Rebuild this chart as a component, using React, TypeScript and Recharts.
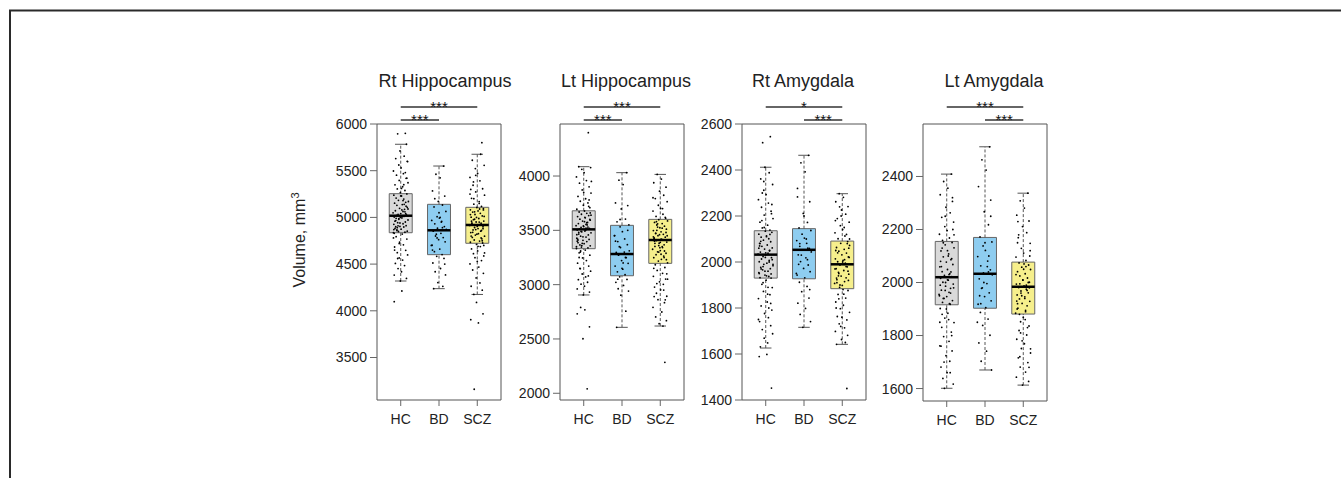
import React from 'react';
import { ComposedChart, XAxis, YAxis, Scatter, ReferenceArea, ReferenceLine } from 'recharts';

// ---------- data ----------
const groups = ['HC', 'BD', 'SCZ'];
const titles = ['Rt Hippocampus', 'Lt Hippocampus', 'Rt Amygdala', 'Lt Amygdala'];

// box stats per group: [lower whisker, Q1, median, Q3, upper whisker]
const rtHipStats = [[4319, 4836, 5018, 5254, 5783], [4237, 4601, 4862, 5140, 5550], [4175, 4723, 4919, 5108, 5676]];
const ltHipStats = [[2905, 3331, 3509, 3680, 4086], [2607, 3082, 3282, 3546, 4031], [2619, 3196, 3411, 3601, 4015]];
const rtAmyStats = [[1626, 1930, 2032, 2136, 2412], [1716, 1927, 2053, 2145, 2464], [1642, 1884, 1990, 2091, 2297]];
const ltAmyStats = [[1601, 1916, 2020, 2155, 2409], [1670, 1903, 2033, 2170, 2512], [1613, 1881, 1984, 2077, 2337]];

const rtHipTicks = [3500, 4000, 4500, 5000, 5500, 6000];
const ltHipTicks = [2000, 2500, 3000, 3500, 4000];
const rtAmyTicks = [1400, 1600, 1800, 2000, 2200, 2400, 2600];
const ltAmyTicks = [1600, 1800, 2000, 2200, 2400];

// significance brackets: [from group, to group, label]
const rtHipSig: [number, number, string][] = [[1, 3, '***'], [1, 2, '***']];
const ltHipSig: [number, number, string][] = [[1, 3, '***'], [1, 2, '***']];
const rtAmySig: [number, number, string][] = [[1, 3, '*'], [2, 3, '***']];
const ltAmySig: [number, number, string][] = [[1, 3, '***'], [2, 3, '***']];

// individual subject volumes
const rtHipHC = [5900, 5895, 4212, 4098, 5783, 5712, 5655, 5630, 5598, 5561, 5530, 5497, 5468, 5452, 5418, 5396, 5371, 5349, 5328, 5305, 5288, 5266, 5251, 5238, 5229, 5207, 5196, 5183, 5161, 5152, 5137, 5129, 5108, 5097, 5086, 5071, 5063, 5049, 5041, 5032, 5026, 5021, 5012, 5003, 4994, 4987, 4972, 4966, 4951, 4944, 4932, 4926, 4911, 4903, 4897, 4881, 4874, 4866, 4853, 4849, 4841, 4837, 4822, 4794, 4768, 4735, 4706, 4683, 4647, 4622, 4598, 4566, 4543, 4507, 4484, 4452, 4418, 4383, 4347, 4319,
  5180, 4960, 5090, 4890, 5310, 4870, 5040, 4720, 5140, 4990, 5420, 4910, 5230, 4780, 5060, 4940, 5600, 4860, 5010, 4650, 5120, 4980, 5350, 4900, 5170, 4560, 5080, 4830, 5480, 5000];
const rtHipBD = [5550, 5462, 5424, 5283, 5228, 5171, 5133, 5112, 5064, 5008, 4993, 4968, 4957, 4931, 4902, 4884, 4871, 4853, 4829, 4801, 4784, 4762, 4738, 4702, 4661, 4633, 4602, 4583, 4561, 4512, 4453, 4418, 4384, 4302, 4262, 4237,
  4950, 4700, 5050, 4820, 4500, 5200, 4890, 4650, 5000, 4780];
const rtHipSCZ = [5800, 3160, 3870, 3905, 3968, 4090, 5676, 5612, 5558, 5523, 5471, 5428, 5392, 5344, 5307, 5273, 5238, 5204, 5169, 5142, 5118, 5106, 5094, 5081, 5069, 5057, 5044, 5031, 5016, 5002, 4988, 4976, 4961, 4951, 4938, 4931, 4922, 4914, 4903, 4892, 4879, 4866, 4852, 4838, 4826, 4811, 4799, 4786, 4771, 4758, 4747, 4734, 4726, 4711, 4688, 4663, 4641, 4612, 4588, 4569, 4538, 4502, 4468, 4437, 4401, 4352, 4298, 4263, 4221, 4175,
  5010, 4870, 5150, 4940, 4780, 5060, 4690, 5300, 4900, 4820, 5090, 4960, 4620, 5200, 4880, 5030, 4750, 5450, 4920, 4840, 5080, 4980, 4530, 5250, 4860, 5000, 4700, 5380, 4950, 4800];

const ltHipHC = [4399, 2790, 2768, 2731, 2612, 2502, 2041, 4086, 4078, 4062, 4031, 3992, 3958, 3934, 3901, 3872, 3843, 3812, 3791, 3768, 3752, 3731, 3709, 3694, 3678, 3669, 3657, 3648, 3636, 3627, 3615, 3603, 3594, 3585, 3573, 3562, 3554, 3543, 3535, 3526, 3518, 3514, 3511, 3503, 3494, 3486, 3477, 3466, 3458, 3446, 3438, 3427, 3416, 3408, 3397, 3386, 3377, 3366, 3357, 3346, 3338, 3333, 3318, 3293, 3271, 3246, 3222, 3198, 3171, 3147, 3124, 3098, 3071, 3046, 3022, 3004, 2986, 2961, 2932, 2905,
  3520, 3410, 3640, 3300, 3580, 3460, 3720, 3380, 3550, 3250, 3600, 3490, 3850, 3350, 3530, 3440, 3660, 3150, 3500, 3420, 3780, 3360, 3570, 3480, 3950, 3310, 3620, 3400, 3080, 3540];
const ltHipBD = [4031, 3962, 3921, 3752, 3728, 3697, 3604, 3578, 3551, 3532, 3488, 3452, 3421, 3397, 3368, 3342, 3311, 3296, 3284, 3271, 3248, 3222, 3196, 3171, 3142, 3118, 3091, 3072, 3048, 3021, 2993, 2962, 2941, 2903, 2756, 2607,
  3300, 3450, 3150, 3350, 3500, 3050, 3250, 3400, 3200, 3600];
const ltHipSCZ = [2285, 4015, 3972, 3938, 3897, 3861, 3823, 3792, 3764, 3731, 3702, 3677, 3648, 3628, 3612, 3598, 3587, 3573, 3562, 3549, 3538, 3524, 3511, 3498, 3486, 3474, 3463, 3451, 3437, 3426, 3416, 3406, 3392, 3381, 3367, 3352, 3341, 3326, 3314, 3302, 3289, 3276, 3263, 3248, 3233, 3217, 3201, 3183, 3158, 3131, 3104, 3077, 3051, 3026, 3003, 2978, 2952, 2921, 2893, 2862, 2834, 2791, 2748, 2703, 2668, 2641, 2619, 2890, 2860, 3010,
  3450, 3300, 3520, 3380, 3250, 3560, 3420, 3150, 3480, 3340, 3700, 3400, 3050, 3500, 3280, 3440, 3620, 3360, 2950, 3470, 3230, 3530, 3390, 3800, 3310, 3460, 3100, 3580, 3350, 3430];

const rtAmyHC = [2545, 2519, 1598, 1589, 1452, 2412, 2388, 2361, 2337, 2312, 2293, 2271, 2256, 2238, 2221, 2204, 2189, 2173, 2160, 2148, 2139, 2134, 2129, 2121, 2114, 2108, 2101, 2095, 2088, 2081, 2074, 2068, 2061, 2056, 2049, 2043, 2038, 2034, 2030, 2024, 2019, 2013, 2007, 2001, 1995, 1990, 1984, 1977, 1971, 1966, 1960, 1954, 1948, 1943, 1937, 1932, 1921, 1903, 1889, 1872, 1858, 1841, 1826, 1809, 1791, 1776, 1758, 1741, 1723, 1706, 1688, 1669, 1648, 1631,
  2050, 1980, 2110, 1950, 2210, 2020, 1890, 2080, 1990, 2300, 1940, 2060, 1820, 2150, 2000, 1970, 2250, 1910, 2040, 1750, 2120, 1960, 2010, 2180, 1860, 2070, 1930, 2350, 1800, 2090];
const rtAmyBD = [2464, 2431, 2392, 2283, 2262, 2211, 2172, 2148, 2137, 2121, 2104, 2093, 2081, 2068, 2059, 2052, 2044, 2031, 2018, 2002, 1987, 1972, 1958, 1943, 1931, 1912, 1894, 1871, 1843, 1821, 1798, 1772, 1741, 1716,
  2060, 1990, 2100, 1950, 2200, 2030, 1880, 2080, 2010, 2320];
const rtAmySCZ = [1450, 2297, 2281, 2262, 2241, 2226, 2208, 2189, 2173, 2158, 2141, 2127, 2113, 2101, 2089, 2081, 2072, 2063, 2055, 2047, 2039, 2031, 2022, 2014, 2007, 2001, 1995, 1987, 1979, 1971, 1963, 1955, 1947, 1939, 1931, 1923, 1915, 1907, 1898, 1890, 1876, 1859, 1843, 1826, 1812, 1797, 1781, 1763, 1748, 1731, 1714, 1698, 1681, 1663, 1650, 1642,
  2000, 1940, 2060, 1900, 2120, 1970, 1860, 2040, 1920, 2200, 1990, 1800, 2080, 1950, 2020, 1720, 2150, 1910, 1980, 2240, 1880, 2050, 1960, 1760, 2010, 1930, 2100, 1840, 1990, 2180];

const ltAmyHC = [2409, 2381, 2356, 2331, 2306, 2284, 2263, 2246, 2228, 2211, 2196, 2182, 2168, 2159, 2151, 2142, 2131, 2119, 2108, 2097, 2086, 2077, 2068, 2059, 2049, 2041, 2033, 2027, 2022, 2016, 2009, 2001, 1994, 1986, 1978, 1971, 1963, 1955, 1947, 1940, 1932, 1925, 1918, 1902, 1884, 1866, 1849, 1831, 1813, 1796, 1778, 1761, 1742, 1724, 1703, 1681, 1660, 1638, 1617, 1601,
  2040, 1950, 2100, 1880, 2200, 2000, 1920, 2080, 1800, 2150, 1980, 2250, 1860, 2060, 1960, 1700, 2120, 1990, 2320, 1900, 2030, 1760, 2180, 1940, 2010, 1850, 2090, 1970, 1660, 2130];
const ltAmyBD = [2512, 2463, 2424, 2362, 2311, 2267, 2218, 2172, 2153, 2138, 2121, 2098, 2081, 2063, 2048, 2036, 2029, 2014, 1996, 1978, 1961, 1947, 1931, 1918, 1905, 1887, 1862, 1838, 1801, 1772, 1741, 1703, 1670,
  2000, 2100, 1950, 2060, 1850, 2150, 1980, 2250, 1920, 2040];
const ltAmySCZ = [2337, 2308, 2281, 2254, 2232, 2211, 2188, 2169, 2148, 2129, 2111, 2096, 2083, 2074, 2066, 2058, 2049, 2041, 2033, 2025, 2017, 2009, 2001, 1994, 1987, 1981, 1975, 1968, 1961, 1953, 1946, 1938, 1929, 1921, 1912, 1903, 1895, 1884, 1869, 1852, 1836, 1819, 1802, 1786, 1769, 1751, 1734, 1716, 1698, 1681, 1662, 1643, 1627, 1613,
  1990, 1920, 2050, 1880, 2100, 1960, 1830, 2030, 1940, 2180, 1980, 1780, 2060, 1900, 2000, 1720, 2120, 1950, 1860, 2230, 1970, 1810, 2070, 1930, 1680, 2010, 1890, 2150, 1750, 1995];

// horizontal jitter (in category units) for the strip points
const jitter = [0.12, -0.08, 0.03, -0.17, 0.15, -0.02, 0.09, -0.13, 0.18, -0.05, 0.01, -0.19, 0.07, -0.11, 0.14, -0.04, 0.19, -0.15, 0.05, -0.09, 0.11, -0.01, 0.16, -0.18, 0.02, -0.12, 0.08, -0.06, 0.13, -0.16, 0.04, -0.1, 0.17, -0.03, 0.1, -0.14, 0.06, -0.2, 0.0, -0.07, 0.15, -0.11, 0.09, -0.17, 0.03, -0.05, 0.19, -0.13, 0.12, -0.08, 0.06, -0.18, 0.14, -0.02, 0.08, -0.15, 0.01, -0.1, 0.17, -0.06, 0.11, -0.19, 0.04, -0.12, 0.16, -0.03, 0.07, -0.16, 0.13, -0.09, 0.18, -0.04, 0.05, -0.14, 0.1, -0.07, 0.02, -0.17, 0.15, -0.01,
  0.06, -0.15, 0.19, -0.09, 0.02, -0.18, 0.13, -0.04, 0.09, -0.12, 0.16, -0.07, 0.0, -0.19, 0.11, -0.02, 0.17, -0.1, 0.05, -0.16, 0.14, -0.05, 0.08, -0.13, 0.2, -0.08, 0.03, -0.17, 0.12, -0.01];

// ---------- styles ----------
const FILLS = ['#d9d9d9', '#8ecdf0', '#f6ef8c'];
const FONT = '"Liberation Sans", Arial, Helvetica, sans-serif';
const X_DOMAIN: [number, number] = [0.38, 3.62];
const PLOT_W = 124;
const Y_AXIS_W = 70;
const X_AXIS_H = 40;
const CHART_H = 478;
const BOX_HALF = 0.3;
const CAP_HALF = 0.15;
const SIG_OFFSETS = [17, 4];

const panels = [
  { stats: rtHipStats, ticks: rtHipTicks, sig: rtHipSig, points: [rtHipHC, rtHipBD, rtHipSCZ], domain: [3045, 6000], plotLeft: 377, plotTop: 124, plotBottom: 400, titleX: 445 },
  { stats: ltHipStats, ticks: ltHipTicks, sig: ltHipSig, points: [ltHipHC, ltHipBD, ltHipSCZ], domain: [1938, 4479], plotLeft: 560, plotTop: 124, plotBottom: 400, titleX: 626 },
  { stats: rtAmyStats, ticks: rtAmyTicks, sig: rtAmySig, points: [rtAmyHC, rtAmyBD, rtAmySCZ], domain: [1400, 2600], plotLeft: 742, plotTop: 124, plotBottom: 400, titleX: 803 },
  { stats: ltAmyStats, ticks: ltAmyTicks, sig: ltAmySig, points: [ltAmyHC, ltAmyBD, ltAmySCZ], domain: [1553, 2598], plotLeft: 923, plotTop: 124, plotBottom: 401, titleX: 994 },
];

const Dot = (p: any) => <circle cx={p.cx} cy={p.cy} r={0.9} fill="#000" />;

function Panel({ cfg }: { cfg: any }) {
  const { stats, ticks, sig, points, domain, plotLeft, plotTop, plotBottom } = cfg;
  const plotH = plotBottom - plotTop;
  const span = domain[1] - domain[0];
  const data = points.flatMap((vals: number[], g: number) =>
    vals.map((v, i) => ({ x: g + 1 + jitter[i % jitter.length], y: v }))
  );
  return (
    <div style={{ position: 'absolute', left: plotLeft - Y_AXIS_W, top: 0 }}>
      <ComposedChart
        width={Y_AXIS_W + PLOT_W + 6}
        height={CHART_H}
        margin={{ top: plotTop, right: 6, bottom: CHART_H - plotBottom - X_AXIS_H, left: 0 }}
      >
        <XAxis
          type="number"
          dataKey="x"
          domain={X_DOMAIN}
          ticks={[1, 2, 3]}
          interval={0}
          allowDataOverflow
          height={X_AXIS_H}
          axisLine={false}
          tickSize={6}
          tickMargin={8}
          tickLine={{ stroke: '#666' }}
          tick={{ fontSize: 14, fill: '#222', fontFamily: FONT }}
          tickFormatter={(v: number) => groups[Math.round(v) - 1]}
        />
        <YAxis
          type="number"
          dataKey="y"
          domain={domain}
          ticks={ticks}
          interval={0}
          allowDataOverflow
          width={Y_AXIS_W}
          axisLine={false}
          tickSize={7}
          tickMargin={3}
          tickLine={{ stroke: '#666' }}
          tick={{ fontSize: 14, fill: '#222', fontFamily: FONT }}
        />
        {stats.map((s: number[], g: number) => {
          const c = g + 1;
          return (
            <React.Fragment key={'w' + g}>
              <ReferenceLine segment={[{ x: c, y: s[3] }, { x: c, y: s[4] }]} stroke="#555" strokeWidth={1} strokeDasharray="3 2" ifOverflow="visible" />
              <ReferenceLine segment={[{ x: c, y: s[0] }, { x: c, y: s[1] }]} stroke="#555" strokeWidth={1} strokeDasharray="3 2" ifOverflow="visible" />
              <ReferenceLine segment={[{ x: c - CAP_HALF, y: s[4] }, { x: c + CAP_HALF, y: s[4] }]} stroke="#555" strokeWidth={1} ifOverflow="visible" />
              <ReferenceLine segment={[{ x: c - CAP_HALF, y: s[0] }, { x: c + CAP_HALF, y: s[0] }]} stroke="#555" strokeWidth={1} ifOverflow="visible" />
              <ReferenceArea x1={c - BOX_HALF} x2={c + BOX_HALF} y1={s[1]} y2={s[3]} fill={FILLS[g]} fillOpacity={1} stroke="#666" strokeWidth={1} ifOverflow="visible" />
            </React.Fragment>
          );
        })}
        <Scatter data={data} isAnimationActive={false} shape={Dot} />
        {stats.map((s: number[], g: number) => (
          <ReferenceLine key={'m' + g} segment={[{ x: g + 1 - BOX_HALF, y: s[2] }, { x: g + 1 + BOX_HALF, y: s[2] }]} stroke="#000" strokeWidth={2.5} ifOverflow="visible" />
        ))}
        <ReferenceArea x1={X_DOMAIN[0]} x2={X_DOMAIN[1]} y1={domain[0]} y2={domain[1]} fill="none" stroke="#555" strokeWidth={1} ifOverflow="visible" />
        {sig.map((b: [number, number, string], r: number) => {
          const yv = domain[1] + (SIG_OFFSETS[r] / plotH) * span;
          return (
            <ReferenceLine
              key={'s' + r}
              segment={[{ x: b[0], y: yv }, { x: b[1], y: yv }]}
              stroke="#333"
              strokeWidth={1.3}
              ifOverflow="visible"
              label={{ value: b[2], position: 'top', offset: -5, fontSize: 15, fill: '#111', stroke: 'none', fontFamily: FONT }}
            />
          );
        })}
      </ComposedChart>
    </div>
  );
}

export default function App() {
  return (
    <div style={{ position: 'absolute', left: 0, top: 0, width: 1341, height: 478, background: '#fff', fontFamily: FONT, overflow: 'hidden' }}>
      {panels.map((p, i) => (
        <Panel key={i} cfg={p} />
      ))}
      <svg width={1341} height={478} style={{ position: 'absolute', left: 0, top: 0, pointerEvents: 'none' }}>
        <path d="M10,478 V10.5 H1341" fill="none" stroke="#2a2a2a" strokeWidth={2} />
        {panels.map((p, i) => (
          <text key={i} x={p.titleX} y={86.5} textAnchor="middle" fontSize={18} fill="#222" fontFamily={FONT}>
            {titles[i]}
          </text>
        ))}
        <text transform="translate(305,240) rotate(-90)" textAnchor="middle" fontSize={16} fill="#222" fontFamily={FONT}>
          Volume, mm<tspan dy={-6} fontSize={11}>3</tspan>
        </text>
      </svg>
    </div>
  );
}
